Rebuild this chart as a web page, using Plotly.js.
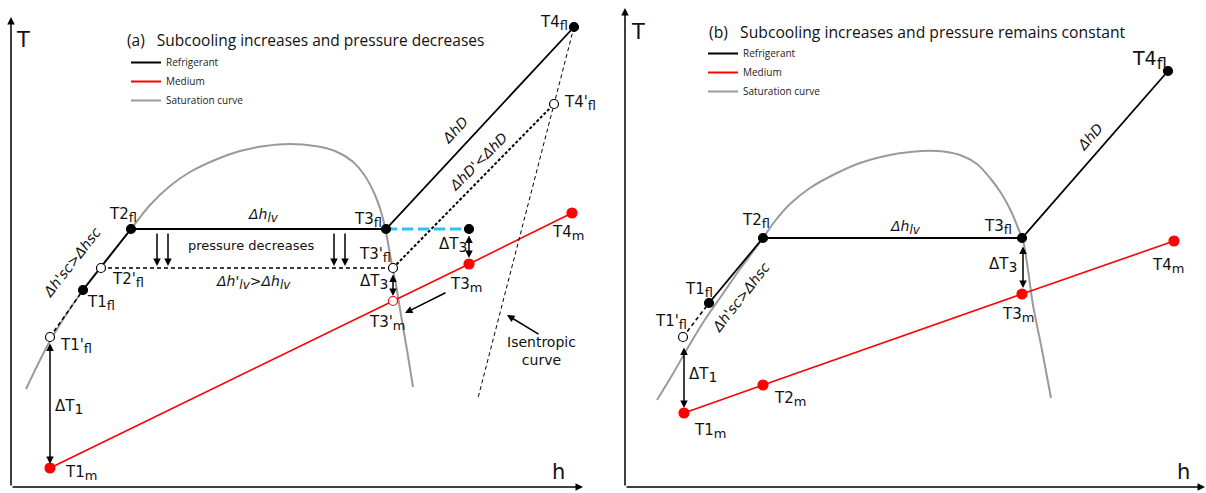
<!DOCTYPE html>
<html><head><meta charset="utf-8">
<script src="https://cdn.plot.ly/plotly-3.0.1.min.js"></script>
<style>html,body{margin:0;padding:0;background:#fff}#chart{width:1206px;height:493px}</style>
</head><body><div id="chart"></div>
<script>
// ---------- Panel (a): schematic h (x) and T (y) units ----------
const satA_h = [15,39,72,120,139,159,179,204,229,254,279,304,324,341,354,364,371,375,380,385,390,396,402];
const satA_T = [98,146,197,258,282,301,315,327,336,341,343,341,336,326,311,292,272,255,227,202,172,137,100];
const refA_h = [72,120,375,563];            // T1fl, T2fl, T3fl, T4fl
const refA_T = [197,258,258,460];
const refA2_h = [39,90,382,543];            // T1'fl, T2'fl, T3'fl, T4'fl
const refA2_T = [150,219,219,383];
const medA_h = [39,382,458,561];            // T1m, T3'm, T3m, T4m
const medA_T = [19,186,223,274];
const isenA_h = [563,467];                  // isentropic curve
const isenA_T = [460,89];
const cyanA_h = [375,458];
const cyanA_T = [258,258];
const pressArrowsA_h = [146,157,323,334];

// ---------- Panel (b) ----------
const satB_h = [32,49,65,81,97,115,130,138,150,165,185,210,235,260,285,312,335,352,365,376,386,393,398,403,408,417,426];
const satB_T = [87,115,143,169,192,218,238,249,266,283,299,313,324,331,335,336,332,323,309,294,276,259,247,217,182,137,89];
const refB_h = [84,138,397,543];            // T1fl, T2fl, T3fl, T4fl
const refB_T = [184,249,249,416];
const refB2_h = [58];                       // T1'fl
const refB2_T = [150];
const medB_h = [59,138,397,549];            // T1m, T2m, T3m, T4m
const medB_T = [74,102,193,246];

const BLACK='#000', RED='#ff0000', GRAY='#9a9a9a', CYAN='#2bc4f2';
const LAB = 'DejaVu Sans', TIT = 'Open Sans';

function line(xa, h, T, color, width, dash, extra){
  return Object.assign({type:'scatter', mode:'lines', xaxis:xa, yaxis:'y', x:h, y:T,
    line:{color:color, width:width, dash:dash||'solid'}, hoverinfo:'skip', showlegend:false}, extra||{});
}
function pts(xa, h, T, fill, edge, size){
  return {type:'scatter', mode:'markers', xaxis:xa, yaxis:'y', x:h, y:T, hoverinfo:'skip', showlegend:false,
    marker:{size:size||9, color:fill, line:{color:edge, width:1.2}}};
}

const traces = [
  // panel a
  line('x', satA_h, satA_T, GRAY, 2, 'solid', {line:{color:GRAY,width:2,shape:'spline',smoothing:0.8}}),
  line('x', medA_h, medA_T, RED, 1.6),
  line('x', [refA2_h[0], refA_h[0]], [refA2_T[0], refA_T[0]], BLACK, 1.5, '4px,3px'),
  line('x', [refA2_h[1], refA2_h[2]], [refA2_T[1], refA2_T[2]], BLACK, 1.5, '4px,3px'),
  line('x', [refA2_h[2], refA2_h[3]], [refA2_T[2], refA2_T[3]], BLACK, 2, '3px,2px'),
  line('x', isenA_h, isenA_T, BLACK, 1, '4px,3px'),
  line('x', cyanA_h, cyanA_T, CYAN, 3, '11px,5px'),
  line('x', refA_h, refA_T, BLACK, 1.8),
  pts('x', refA_h.concat([cyanA_h[1]]), refA_T.concat([cyanA_T[1]]), BLACK, BLACK, 9),
  pts('x', refA2_h, refA2_T, '#fff', BLACK, 9),
  pts('x', [medA_h[0], medA_h[2], medA_h[3]], [medA_T[0], medA_T[2], medA_T[3]], RED, RED, 10),
  pts('x', [medA_h[1]], [medA_T[1]], '#fff', RED, 9),
  // panel b
  line('x2', satB_h, satB_T, GRAY, 2, 'solid', {line:{color:GRAY,width:2,shape:'spline',smoothing:0.8}}),
  line('x2', medB_h, medB_T, RED, 1.6),
  line('x2', [refB2_h[0], refB_h[0]], [refB2_T[0], refB_T[0]], BLACK, 1.5, '4px,3px'),
  line('x2', refB_h, refB_T, BLACK, 1.8),
  pts('x2', refB_h, refB_T, BLACK, BLACK, 9),
  pts('x2', refB2_h, refB2_T, '#fff', BLACK, 9),
  pts('x2', medB_h, medB_T, RED, RED, 10),
];
// legend entries (drawn via legend only)
[['legend','x'],['legend2','x2']].forEach(function(p){
  [['Refrigerant',BLACK],['Medium',RED],['Saturation curve',GRAY]].forEach(function(e){
    traces.push({type:'scatter', mode:'lines', xaxis:p[1], yaxis:'y', x:[null], y:[null], name:e[0],
      legend:p[0], showlegend:true, line:{color:e[1], width:2}, hoverinfo:'skip'});
  });
});

function S(t, px){ return '<sub><span style="font-size:' + (px||13) + 'px">' + t + '</span></sub>'; }
function lab(xr, h, T, text, o){
  return Object.assign({xref:xr, yref:'y', x:h, y:T, text:text, showarrow:false, xanchor:'left', yanchor:'middle',
    font:{family:LAB, size:15, color:'#111'}}, o||{});
}
function arr(xr, h0, T0, h1, T1, both){
  const a = {xref:xr, yref:'y', axref:xr, ayref:'y', x:h1, y:T1, ax:h0, ay:T0, text:'', showarrow:true,
    arrowhead:2, arrowsize:1, arrowwidth:1.5, arrowcolor:'#000', standoff:0, startstandoff:0};
  if (both){ a.arrowside='end+start'; a.startarrowhead=2; a.startarrowsize=1; }
  return a;
}
const it = {family:LAB, size:14, color:'#111'};
const ann = [
  // axes
  arr('x', 0, 0, 0, 470), arr('x', 0, 0, 572, 0),
  arr('x2', 0, 0, 0, 479), arr('x2', 0, 0, 580, 0),
  lab('x', 12, 447, 'T', {xanchor:'center', font:{family:LAB,size:21,color:'#111'}}),
  lab('x', 547, 15, 'h', {xanchor:'center', font:{family:LAB,size:21,color:'#111'}}),
  lab('x2', 13, 455, 'T', {xanchor:'center', font:{family:LAB,size:21,color:'#111'}}),
  lab('x2', 558, 15, 'h', {xanchor:'center', font:{family:LAB,size:21,color:'#111'}}),
  // titles
  lab('x', 114, 447, '(a)\u00a0\u00a0\u00a0Subcooling increases and pressure decreases', {font:{family:TIT,size:15.5,color:'#111'}}),
  lab('x2', 82, 455, '(b)\u00a0\u00a0\u00a0Subcooling increases and pressure remains constant', {font:{family:TIT,size:15.7,color:'#111'}}),
  // panel a labels
  lab('x', 47, 141, "T1'" + S('fl')),
  lab('x', 74, 184, 'T1' + S('fl')),
  lab('x', 99, 207, "T2'" + S('fl')),
  lab('x', 96, 272, 'T2' + S('fl')),
  lab('x', 341, 267, 'T3' + S('fl')),
  lab('x', 346, 232, "T3'" + S('fl')),
  lab('x', 527, 464, 'T4' + S('fl')),
  lab('x', 551, 384, "T4'" + S('fl')),
  lab('x', 52, 14, 'T1' + S('m')),
  lab('x', 437, 202, 'T3' + S('m')),
  lab('x', 356, 164, "T3'" + S('m')),
  lab('x', 539, 254, 'T4' + S('m')),
  lab('x', 42, 80, 'ΔT' + S('1', 14)),
  lab('x', 347, 205, 'ΔT' + S('3', 14)),
  lab('x', 426, 242, 'ΔT' + S('3', 14)),
  lab('x', 252, 272, '<i>Δh' + S('lv', 12) + '</i>', {xanchor:'center', font:it}),
  lab('x', 242, 205, "<i>Δh'" + S('lv', 12) + '>Δh' + S('lv', 12) + '</i>', {xanchor:'center', font:it}),
  lab('x', 240, 242, 'pressure decreases', {xanchor:'center', font:{family:LAB,size:13,color:'#111'}}),
  lab('x', 444, 357, '<i>ΔhD</i>', {xanchor:'center', textangle:-47, font:it}),
  lab('x', 467, 325, "<i>ΔhD'<ΔhD</i>", {xanchor:'center', textangle:-45, font:it}),
  lab('x', 61, 225, "<i>Δh'sc>Δhsc</i>", {xanchor:'center', textangle:-52, font:it}),
  lab('x', 530, 136, 'Isentropic<br>curve', {xanchor:'center', font:{family:LAB,size:14,color:'#111'}}),
  arr('x', 39, 145, 39, 23, true),
  arr('x', 382, 214, 382, 191, true),
  arr('x', 458, 253, 458, 229, true),
  arr('x', 436, 195, 394, 174),
  arr('x', 529, 152, 496, 172),
  // panel b labels
  lab('x2', 28, 165, "T1'" + S('fl')),
  lab('x2', 58, 197, 'T1' + S('fl')),
  lab('x2', 115, 266, 'T2' + S('fl')),
  lab('x2', 357, 260, 'T3' + S('fl')),
  lab('x2', 505, 427, 'T4' + S('fl', 16), {font:{family:LAB,size:19,color:'#111'}}),
  lab('x2', 67, 56, 'T1' + S('m')),
  lab('x2', 147, 88, 'T2' + S('m')),
  lab('x2', 375, 172, 'T3' + S('m')),
  lab('x2', 525, 221, 'T4' + S('m')),
  lab('x2', 62, 112, 'ΔT' + S('1', 14)),
  lab('x2', 362, 222, 'ΔT' + S('3', 14)),
  lab('x2', 280, 260, '<i>Δh' + S('lv', 12) + '</i>', {xanchor:'center', font:it}),
  lab('x2', 465, 350, '<i>ΔhD</i>', {xanchor:'center', textangle:-49, font:it}),
  lab('x2', 116, 190, "<i>Δh'sc>Δhsc</i>", {xanchor:'center', textangle:-52, font:it}),
  arr('x2', 59, 141, 59, 79, true),
  arr('x2', 398, 242, 398, 199, true),
];
pressArrowsA_h.forEach(function(h){ ann.push(arr('x', h, 255, h, 221)); });

const ax = {visible:false, showgrid:false, zeroline:false, fixedrange:true};
const layout = {
  width:1206, height:493, margin:{l:0,r:0,t:0,b:0}, paper_bgcolor:'#fff', plot_bgcolor:'#fff',
  xaxis:Object.assign({domain:[0,0.5], range:[-11,592]}, ax),
  xaxis2:Object.assign({domain:[0.5,1], range:[-22,581], anchor:'y'}, ax),
  yaxis:Object.assign({domain:[0,1], range:[-6,487]}, ax),
  legend:{x:126/1206, y:1-48/493, xanchor:'left', yanchor:'top', bgcolor:'rgba(0,0,0,0)',
    font:{family:TIT, size:10, color:'#222'}, itemwidth:30, tracegroupgap:0},
  legend2:{x:703/1206, y:1-39/493, xanchor:'left', yanchor:'top', bgcolor:'rgba(0,0,0,0)',
    font:{family:TIT, size:10, color:'#222'}, itemwidth:30, tracegroupgap:0},
  annotations:ann, showlegend:true
};
Plotly.newPlot('chart', traces, layout, {staticPlot:true, displayModeBar:false});
</script></body></html>
